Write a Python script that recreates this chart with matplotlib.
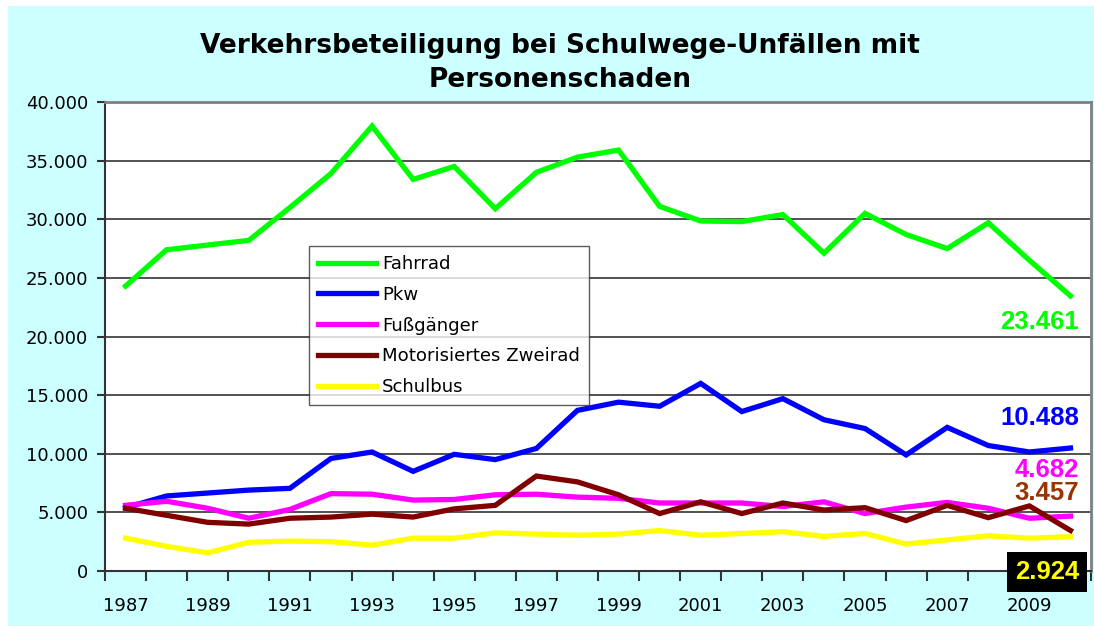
import matplotlib
matplotlib.use("Agg")
import matplotlib.pyplot as plt
from matplotlib.patches import Rectangle
from matplotlib.ticker import FuncFormatter

years = list(range(1987, 2011))
fahrrad = [24300, 27400, 27800, 28200, 31000, 33900, 37950, 33400, 34500, 30900, 34000, 35300,
           35900, 31100, 29850, 29800, 30400, 27100, 30500, 28700, 27500, 29700, 26500, 23461]
pkw = [5400, 6400, 6650, 6900, 7050, 9600, 10150, 8500, 9950, 9500, 10450, 13700,
       14400, 14050, 16000, 13600, 14700, 12900, 12150, 9900, 12250, 10700, 10150, 10488]
fuss = [5600, 5950, 5350, 4500, 5250, 6600, 6550, 6050, 6100, 6500, 6550, 6300,
        6200, 5800, 5800, 5800, 5500, 5900, 4900, 5450, 5850, 5350, 4500, 4682]
zweirad = [5350, 4750, 4150, 4000, 4500, 4600, 4850, 4600, 5300, 5600, 8100, 7600,
           6500, 4900, 5900, 4900, 5800, 5200, 5400, 4300, 5600, 4550, 5550, 3457]
schulbus = [2800, 2100, 1550, 2450, 2550, 2500, 2200, 2800, 2800, 3250, 3150, 3050,
            3150, 3450, 3050, 3200, 3350, 2950, 3200, 2300, 2650, 3000, 2800, 2924]

series = [
    ("Fahrrad", fahrrad, "#00FF00"),
    ("Pkw", pkw, "#0000FF"),
    ("Fußgänger", fuss, "#FF00FF"),
    ("Motorisiertes Zweirad", zweirad, "#800000"),
    ("Schulbus", schulbus, "#FFFF00"),
]
end_labels = [
    ("23.461", "#00FF00", None),
    ("10.488", "#0000FF", None),
    ("4.682", "#FF00FF", None),
    ("3.457", "#993300", None),
    ("2.924", "#FFFF00", "black"),
]

fig = plt.figure(figsize=(10.94, 6.26), dpi=100)
fig.patch.set_facecolor("white")
bg = Rectangle((8 / 1094, 0), 1 - 8 / 1094, 1 - 6 / 626,
               transform=fig.transFigure, facecolor="#CCFFFF", edgecolor="none", zorder=-10)
fig.patches.append(bg)

ax = fig.add_axes([105 / 1094, 1 - 571 / 626, (1091 - 105) / 1094, (571 - 102) / 626])
ax.set_facecolor("white")
ax.set_zorder(1)

x = list(range(len(years)))
for name, vals, col in series:
    ax.plot(x, vals, color=col, lw=3.8, label=name, solid_joinstyle="miter", zorder=3)

ax.set_xlim(-0.5, len(years) - 0.5)
ax.set_ylim(0, 40000)
ax.set_yticks(range(0, 40001, 5000))
ax.yaxis.set_major_formatter(FuncFormatter(lambda v, p: "0" if v == 0 else f"{int(v):,}".replace(",", ".")))
ax.grid(axis="y", color="#333333", lw=1.2, zorder=1)

ax.set_xticks([i - 0.5 for i in range(len(years) + 1)], minor=False)
ax.set_xticklabels([])
ax.set_xticks(list(range(0, len(years), 2)), minor=True)
ax.set_xticklabels([str(years[i]) for i in range(0, len(years), 2)], minor=True)
ax.tick_params(axis="x", which="major", length=7, width=1.5, color="#333333", direction="out")
ax.tick_params(axis="x", which="minor", length=0, pad=19, labelsize=13)
ax.tick_params(axis="y", length=6, width=1.5, color="#333333", labelsize=13, pad=6)

for s in ["top", "right"]:
    ax.spines[s].set_color("#808080")
    ax.spines[s].set_linewidth(2)
for s in ["left", "bottom"]:
    ax.spines[s].set_color("#333333")
    ax.spines[s].set_linewidth(1.5)

fig.text(0.512, 1 - 63 / 626, "Verkehrsbeteiligung bei Schulwege-Unfällen mit\nPersonenschaden",
         ha="center", va="center", fontsize=19, fontweight="bold", linespacing=1.4)

leg = ax.legend(loc="upper left", bbox_to_anchor=((309 - 105) / 986, (571 - 246) / 469),
                fontsize=13.1, frameon=True, fancybox=False, edgecolor="#333333",
                handlelength=3.2, handletextpad=0.3, labelspacing=0.7, borderpad=0.5,
                borderaxespad=0)
leg.get_frame().set_linewidth(1.0)
leg.set_zorder(5)

label_y = [322, 418, 470, 493, 572]
for (txt, col, bgc), py in zip(end_labels, label_y):
    kw = {}
    if bgc:
        kw["bbox"] = dict(facecolor=bgc, edgecolor="none", boxstyle="square,pad=0.3")
    fig.text(1079 / 1094, 1 - py / 626, txt, color=col, fontsize=18.5, fontweight="bold",
             ha="right", va="center", zorder=10, family="Liberation Sans", **kw)

fig.savefig("out.png", dpi=100, facecolor=fig.get_facecolor())
